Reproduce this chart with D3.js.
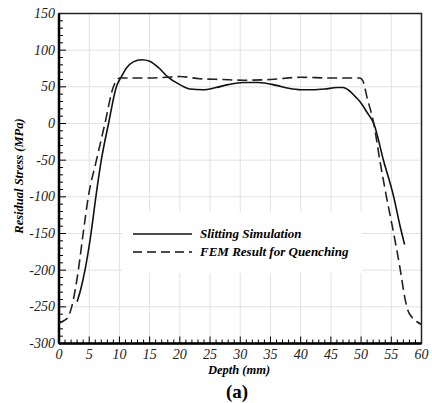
<!DOCTYPE html>
<html>
<head>
<meta charset="UTF-8">
<script src="https://d3js.org/d3.v7.min.js"></script>
<style>
  body { margin: 0; background: #fff; }
  svg text { font-family: "Liberation Serif", Tinos, Times, "Nimbus Roman", "DejaVu Serif", serif; }
</style>
</head>
<body>
<svg width="432" height="403"></svg>
<script>
// Slitting simulation (solid)
const slitDepth  = [3.0, 3.6, 4.3, 5.3, 6.1, 7.0, 8.2, 9.5, 10.4, 11.2, 12.3, 13.7, 15, 16.5, 17.8, 20, 21.7, 23.8, 26, 28, 30.5, 33, 36, 38, 40, 42, 44, 46, 47, 48, 49, 49.8, 51, 52.1, 53.7, 55.4, 56.4, 57.2];
const slitStress = [-243, -226, -200, -150, -100, -50, 0, 50, 65, 76, 84, 87, 85, 76, 65, 53, 47, 46, 49, 53, 56, 56, 52, 48, 46, 46, 47, 49, 49, 45, 37, 30, 15, 0, -50, -100, -138, -165];

// FEM result for quenching (dashed)
const femDepth  = [0, 0.8, 1.5, 2.1, 3.2, 4.0, 4.85, 6.2, 7.6, 9.0, 10.1, 12, 15, 17.8, 20, 23.3, 27, 30.5, 35, 39.9, 45, 49.8, 50.3, 51, 52.1, 53.1, 54.2, 55.4, 56.5, 57.2, 57.8, 58.4, 59.2, 60];
const femStress = [-272, -269, -264, -250, -200, -150, -100, -50, 0, 50, 62, 62, 62, 63, 64, 61, 60, 59, 60, 63, 62, 62, 58, 35, 0, -50, -100, -150, -200, -236, -256, -264, -270, -274];

const xTicks = [0, 5, 10, 15, 20, 25, 30, 35, 40, 45, 50, 55, 60];
const yTicks = [-300, -250, -200, -150, -100, -50, 0, 50, 100, 150];

const legendLabels = ["Slitting Simulation", "FEM Result for Quenching"];

const svg = d3.select("svg");
const pl = 59, pr = 421.5, pt = 13.5, pb = 343.5;

const x = d3.scaleLinear().domain([0, 60]).range([pl, pr]);
const y = d3.scaleLinear().domain([-300, 150]).range([pb, pt]);

// grid
svg.append("g").selectAll("line").data(xTicks.slice(1, -1)).enter().append("line")
  .attr("x1", d => x(d)).attr("x2", d => x(d)).attr("y1", pt).attr("y2", pb)
  .attr("stroke", "#e2e2e2").attr("stroke-width", 1);
svg.append("g").selectAll("line").data(yTicks.slice(1, -1)).enter().append("line")
  .attr("y1", d => y(d)).attr("y2", d => y(d)).attr("x1", pl).attr("x2", pr)
  .attr("stroke", "#e2e2e2").attr("stroke-width", 1);

// minor ticks (inward)
const xMinor = d3.range(0, 61, 1);
const yMinor = d3.range(-300, 151, 10);
svg.append("g").selectAll("line").data(xMinor).enter().append("line")
  .attr("x1", d => x(d)).attr("x2", d => x(d))
  .attr("y1", pb).attr("y2", d => pb - (d % 5 === 0 ? 7 : 4))
  .attr("stroke", "#000").attr("stroke-width", 1);
svg.append("g").selectAll("line").data(yMinor).enter().append("line")
  .attr("y1", d => y(d)).attr("y2", d => y(d))
  .attr("x1", pl).attr("x2", d => pl + (d % 50 === 0 ? 7 : 4))
  .attr("stroke", "#000").attr("stroke-width", 1);

// frame
svg.append("rect").attr("x", pl).attr("y", pt)
  .attr("width", pr - pl).attr("height", pb - pt)
  .attr("fill", "none").attr("stroke", "#222").attr("stroke-width", 1.5);
svg.append("line").attr("x1", pl).attr("x2", pl).attr("y1", pt).attr("y2", pb)
  .attr("stroke", "#000").attr("stroke-width", 2.5);
svg.append("line").attr("x1", pl).attr("x2", pr).attr("y1", pb).attr("y2", pb)
  .attr("stroke", "#000").attr("stroke-width", 2.5);

// tick labels
svg.append("g").selectAll("text").data(xTicks).enter().append("text")
  .attr("x", d => x(d)).attr("y", pb + 15)
  .attr("text-anchor", "middle").attr("font-size", 14).attr("font-style", "italic")
  .attr("fill", "#222").text(d => d);
svg.append("g").selectAll("text").data(yTicks).enter().append("text")
  .attr("x", pl - 4).attr("y", d => y(d) + 4.5)
  .attr("text-anchor", "end").attr("font-size", 14).attr("font-style", "italic")
  .attr("fill", "#222").text(d => d);

// axis titles
svg.append("text").attr("x", 239).attr("y", 374)
  .attr("text-anchor", "middle").attr("font-size", 12.5)
  .attr("font-style", "italic").attr("font-weight", "bold")
  .text("Depth (mm)");
svg.append("text").attr("transform", "translate(23,176) rotate(-90)")
  .attr("text-anchor", "middle").attr("font-size", 12.5)
  .attr("font-style", "italic").attr("font-weight", "bold")
  .text("Residual Stress (MPa)");
svg.append("text").attr("x", 237).attr("y", 398)
  .attr("text-anchor", "middle").attr("font-size", 19).attr("font-weight", "bold")
  .text("(a)");

// legend background (hides grid)
svg.append("rect").attr("x", 122).attr("y", 212).attr("width", 240).attr("height", 61).attr("fill", "#fff");

// curves
const line = d3.line().curve(d3.curveMonotoneX);
svg.append("path")
  .attr("d", line(slitDepth.map((d, i) => [x(d), y(slitStress[i])])))
  .attr("fill", "none").attr("stroke", "#111").attr("stroke-width", 1.6);
svg.append("path")
  .attr("d", line(femDepth.map((d, i) => [x(d), y(femStress[i])])))
  .attr("fill", "none").attr("stroke", "#222").attr("stroke-width", 1.6)
  .attr("stroke-dasharray", "10,5");

// legend
const lg = svg.append("g");
legendLabels.forEach((t, i) => {
  const ly = 234 + i * 18;
  lg.append("line").attr("x1", 133).attr("x2", 192).attr("y1", ly).attr("y2", ly)
    .attr("stroke", "#111").attr("stroke-width", 1.6)
    .attr("stroke-dasharray", i === 1 ? "9,5" : null);
  lg.append("text").attr("x", 200).attr("y", ly + 4)
    .attr("font-size", 13).attr("font-style", "italic").attr("font-weight", "bold")
    .text(t);
});
</script>
</body>
</html>
